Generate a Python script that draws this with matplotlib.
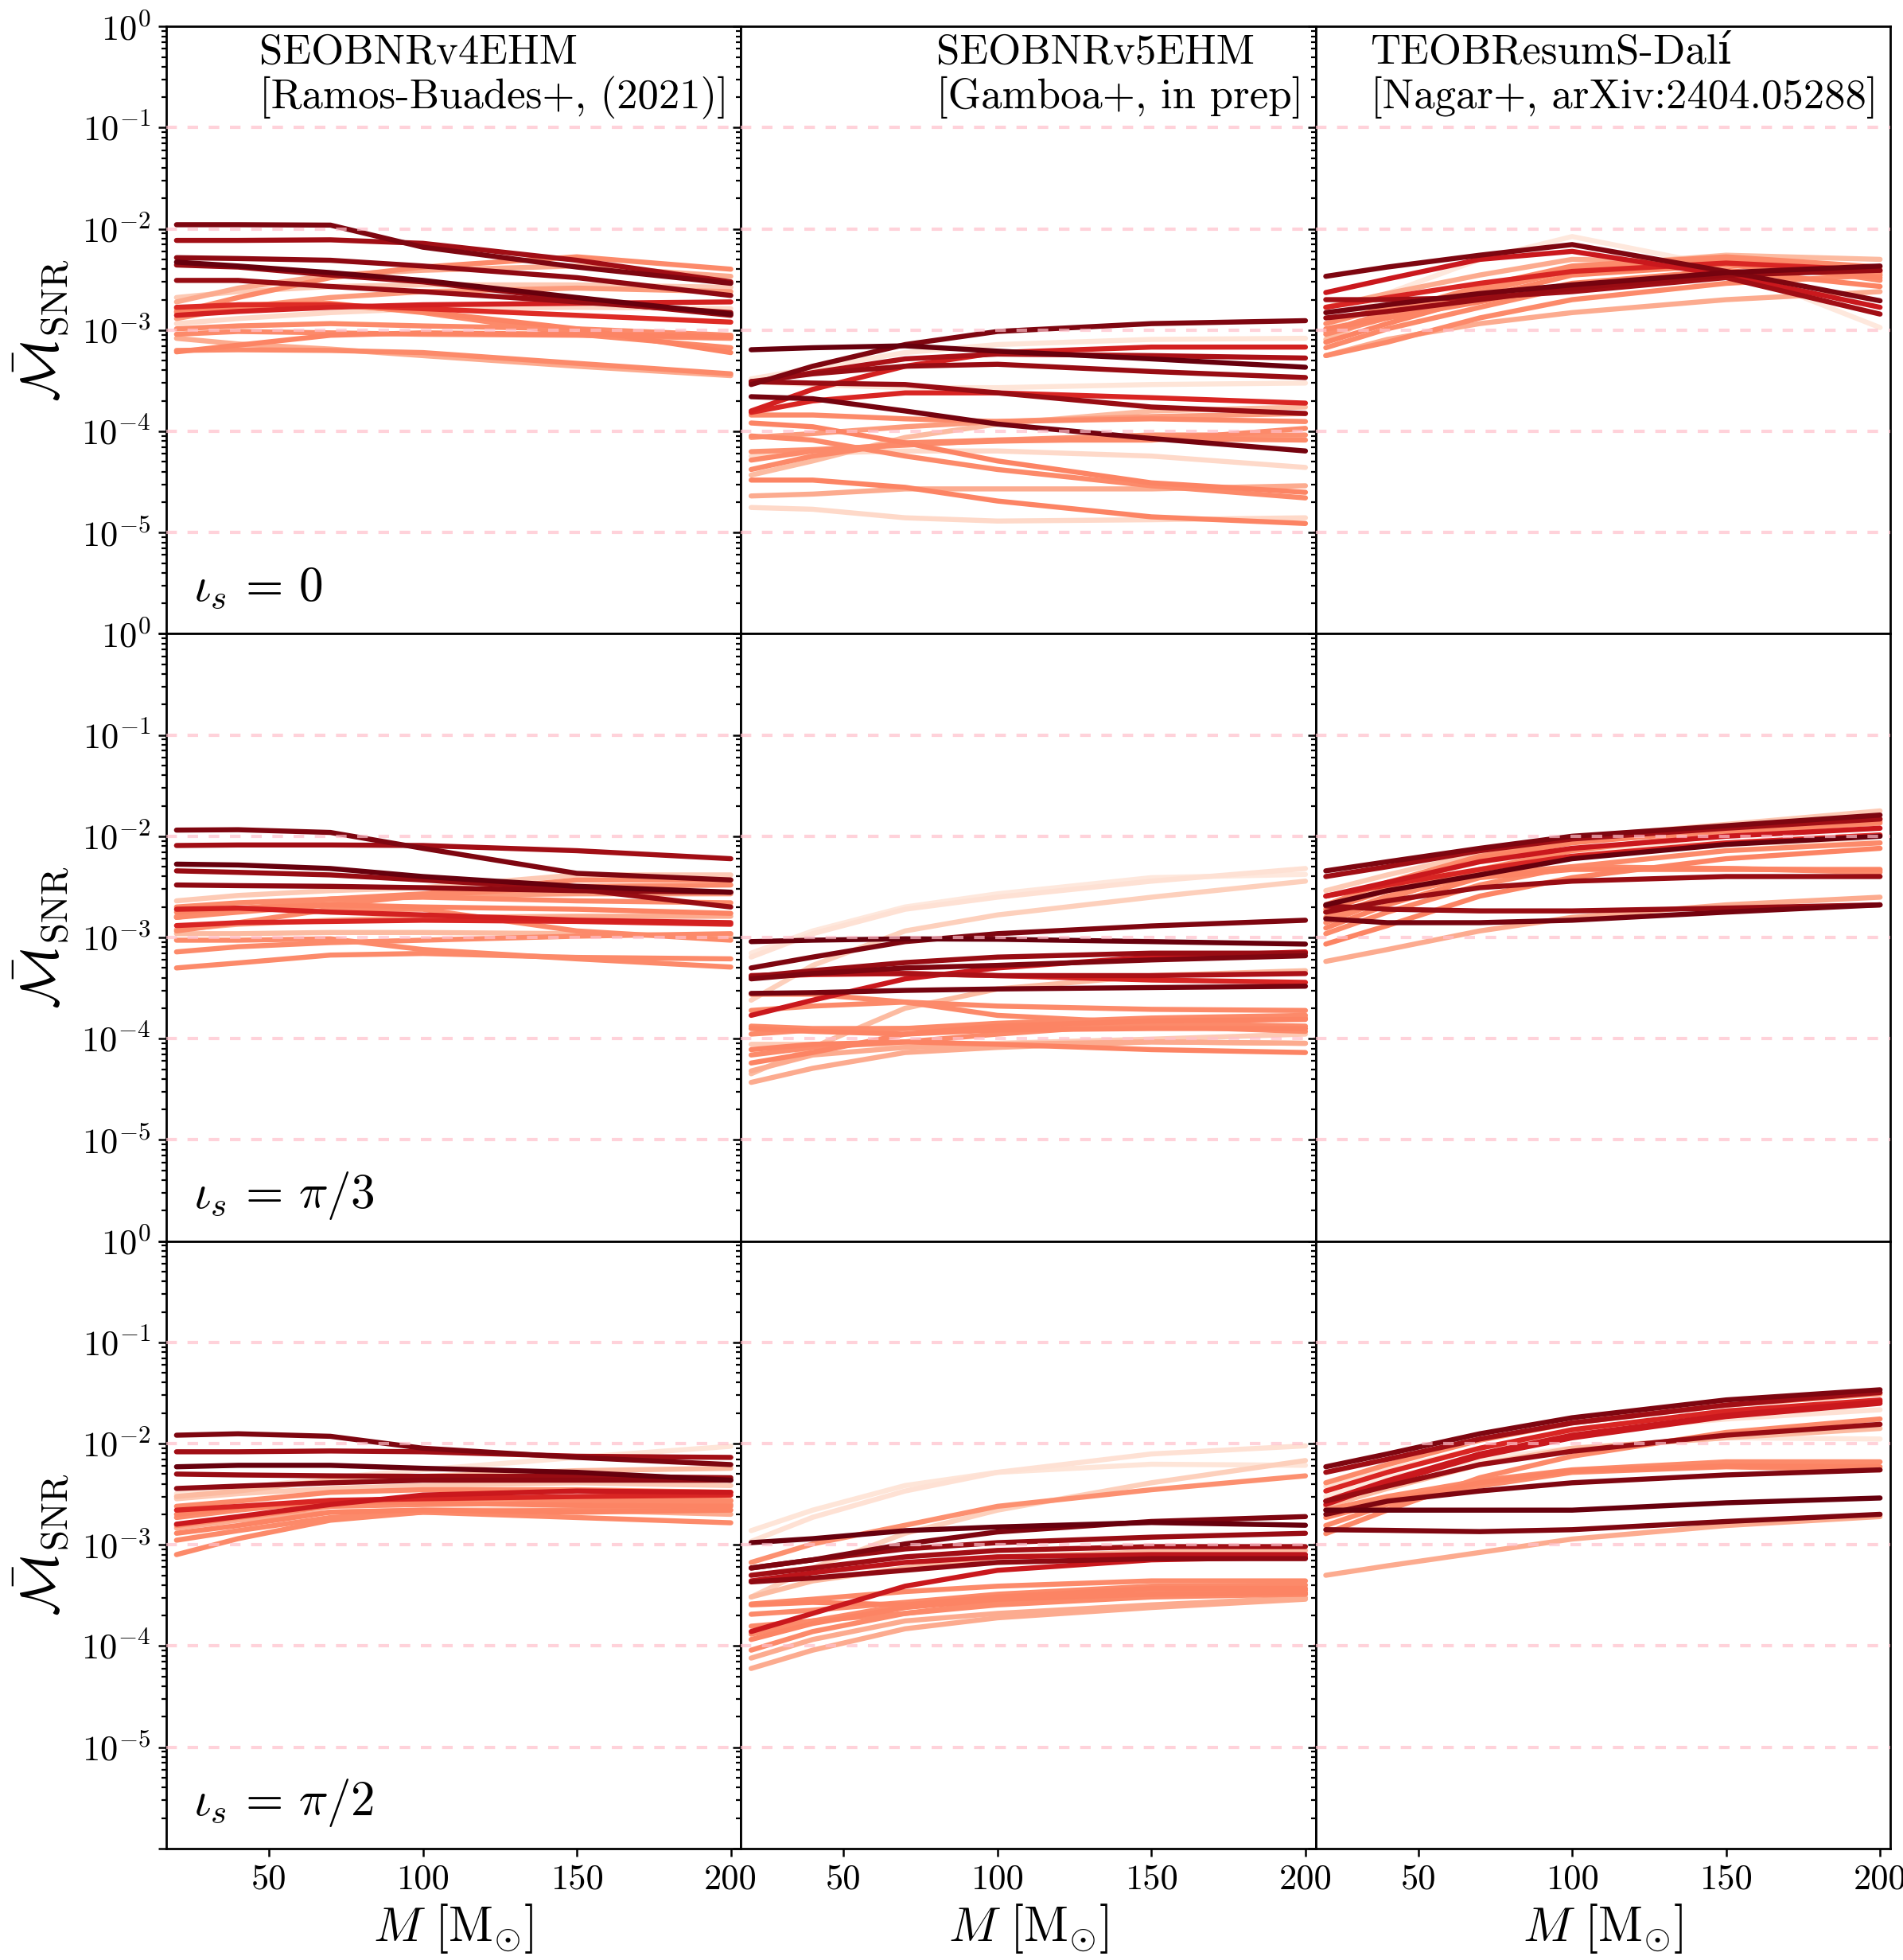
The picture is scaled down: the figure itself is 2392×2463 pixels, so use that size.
import numpy as np
import matplotlib
matplotlib.use('Agg')
import matplotlib.pyplot as plt
from matplotlib.ticker import FixedLocator, FixedFormatter, LogLocator, NullFormatter

plt.rcParams['font.family'] = ['cmr10', 'DejaVu Serif']
plt.rcParams['mathtext.fontset'] = 'cm'
plt.rcParams['axes.formatter.use_mathtext'] = True
plt.rcParams['axes.unicode_minus'] = False

# ---------------- data ----------------
mass = [20, 40, 70, 100, 150, 200]

model_titles = ["SEOBNRv4EHM\n[Ramos-Buades+, (2021)]",
                "SEOBNRv5EHM\n[Gamboa+, in prep]",
                "TEOBResumS-Dalí\n[Nagar+, arXiv:2404.05288]"]
iota_labels = [r'$\iota_s \,=\, 0$', r'$\iota_s \,=\, \pi/3$', r'$\iota_s \,=\, \pi/2$']
ytick_vals = [1e-6, 1e-5, 1e-4, 1e-3, 1e-2, 1e-1, 1e0]
ytick_labels = ['', r'$10^{-5}$', r'$10^{-4}$', r'$10^{-3}$', r'$10^{-2}$', r'$10^{-1}$', r'$10^{0}$']
xtick_vals = [50, 100, 150, 200]
ref_levels = [1e-1, 1e-2, 1e-3, 1e-4, 1e-5]

# --- SEOBNRv4EHM, iota = 0
v4_i0_shade = [0.95, 0.88, 0.92, 1.0, 0.9, 0.9, 0.72, 0.68, 0.4, 0.3, 0.2, 0.4, 0.42, 0.4, 0.4, 0.42, 0.4, 0.3, 0.15, 0.35]
v4_i0_vals = [
    [1.1e-2, 1.1e-2, 1.09e-2, 6.6e-3, 4.2e-3, 2.9e-3],
    [7.7e-3, 7.7e-3, 7.8e-3, 7.2e-3, 4.9e-3, 3.0e-3],
    [5.2e-3, 5.1e-3, 4.9e-3, 4.3e-3, 3.3e-3, 2.2e-3],
    [4.7e-3, 4.3e-3, 3.7e-3, 3.1e-3, 2.1e-3, 1.44e-3],
    [4.4e-3, 4.2e-3, 3.5e-3, 3.0e-3, 2.0e-3, 1.4e-3],
    [3.1e-3, 3.1e-3, 2.7e-3, 2.4e-3, 1.9e-3, 1.49e-3],
    [1.4e-3, 1.53e-3, 1.68e-3, 1.78e-3, 1.84e-3, 1.9e-3],
    [1.68e-3, 1.78e-3, 1.78e-3, 1.63e-3, 1.4e-3, 1.2e-3],
    [1.49e-3, 2.1e-3, 3.3e-3, 4.2e-3, 5.3e-3, 4.0e-3],
    [1.9e-3, 2.6e-3, 3.5e-3, 3.9e-3, 4.3e-3, 3.4e-3],
    [2.1e-3, 2.4e-3, 2.7e-3, 2.8e-3, 2.8e-3, 2.65e-3],
    [1.63e-3, 1.78e-3, 1.84e-3, 1.49e-3, 9.1e-4, 6.7e-4],
    [1.53e-3, 1.68e-3, 1.78e-3, 1.53e-3, 1.03e-3, 6.0e-4],
    [1.03e-3, 1.1e-3, 1.16e-3, 1.1e-3, 1.03e-3, 8.9e-4],
    [9.1e-4, 9.7e-4, 9.4e-4, 9.1e-4, 8.9e-4, 8.3e-4],
    [6.1e-4, 7.1e-4, 8.9e-4, 9.4e-4, 9.1e-4, 8.6e-4],
    [6.3e-4, 6.4e-4, 6.3e-4, 6.0e-4, 4.7e-4, 3.7e-4],
    [8.3e-4, 7.3e-4, 6.5e-4, 5.6e-4, 4.4e-4, 3.55e-4],
    [1.16e-3, 1.3e-3, 1.49e-3, 1.63e-3, 1.68e-3, 1.63e-3],
    [1.3e-3, 1.68e-3, 2.1e-3, 2.4e-3, 2.6e-3, 2.4e-3],
]

# --- SEOBNRv5EHM, iota = 0
v5_i0_shade = [1.0, 0.95, 0.9, 0.85, 0.72, 0.9, 0.97, 0.7, 0.4, 0.42, 0.4, 0.42, 0.15, 0.3, 0.4, 0.38, 0.25, 0.15, 0.1, 0.1, 0.4, 0.35]
v5_i0_vals = [
    [6.4e-4, 6.7e-4, 7.0e-4, 6.2e-4, 5.2e-4, 4.3e-4],
    [2.9e-4, 4.4e-4, 7.2e-4, 9.7e-4, 1.16e-3, 1.24e-3],
    [3.1e-4, 3.7e-4, 4.4e-4, 4.6e-4, 3.9e-4, 3.4e-4],
    [3.0e-4, 3.8e-4, 5.2e-4, 5.8e-4, 5.6e-4, 5.3e-4],
    [1.59e-4, 2.6e-4, 4.4e-4, 6.0e-4, 6.8e-4, 6.8e-4],
    [3.1e-4, 3.0e-4, 2.9e-4, 2.4e-4, 1.74e-4, 1.5e-4],
    [2.2e-4, 2.1e-4, 1.59e-4, 1.18e-4, 8.5e-5, 6.4e-5],
    [1.54e-4, 2.0e-4, 2.4e-4, 2.4e-4, 2.15e-4, 1.9e-4],
    [1.45e-4, 1.45e-4, 1.33e-4, 1.25e-4, 1.33e-4, 1.25e-4],
    [1.21e-4, 1.11e-4, 7.7e-5, 5.1e-5, 3.1e-5, 2.5e-5],
    [9.0e-5, 8.2e-5, 5.7e-5, 4.2e-5, 2.9e-5, 2.2e-5],
    [3.3e-5, 3.3e-5, 2.8e-5, 2.05e-5, 1.43e-5, 1.23e-5],
    [1.77e-5, 1.7e-5, 1.4e-5, 1.3e-5, 1.34e-5, 1.4e-5],
    [2.3e-5, 2.4e-5, 2.7e-5, 2.7e-5, 2.7e-5, 2.9e-5],
    [4.2e-5, 5.7e-5, 7.7e-5, 8.2e-5, 8.2e-5, 1.07e-4],
    [6.3e-5, 6.6e-5, 7.3e-5, 8.2e-5, 9.2e-5, 9.2e-5],
    [3.7e-5, 5.1e-5, 8.7e-5, 1.18e-4, 1.59e-4, 1.74e-4],
    [5.7e-5, 6.1e-5, 6.4e-5, 6.4e-5, 5.7e-5, 4.4e-5],
    [3.3e-4, 4.2e-4, 6.0e-4, 7.2e-4, 8.1e-4, 8.3e-4],
    [3.1e-4, 2.9e-4, 2.7e-4, 2.7e-4, 2.9e-4, 3.0e-4],
    [5.2e-5, 6.4e-5, 7.5e-5, 8.0e-5, 8.5e-5, 8.2e-5],
    [8.7e-5, 9.5e-5, 1.11e-4, 1.25e-4, 1.4e-4, 1.5e-4],
]

# --- TEOBResumS-Dali, iota = 0
teob_i0_shade = [0.95, 0.75, 0.08, 0.88, 0.97, 0.9, 0.4, 0.42, 0.4, 0.3, 0.25, 0.7, 0.4, 0.42, 0.3, 0.4, 0.4]
teob_i0_vals = [
    [3.4e-3, 4.2e-3, 5.5e-3, 7.0e-3, 3.8e-3, 1.95e-3],
    [2.35e-3, 3.2e-3, 5.0e-3, 6.0e-3, 3.5e-3, 1.68e-3],
    [9.7e-4, 2.3e-3, 5.0e-3, 8.4e-3, 4.2e-3, 1.06e-3],
    [2.0e-3, 2.0e-3, 2.1e-3, 2.4e-3, 3.3e-3, 1.44e-3],
    [1.49e-3, 1.78e-3, 2.3e-3, 2.8e-3, 3.7e-3, 4.3e-3],
    [1.32e-3, 1.53e-3, 2.0e-3, 2.6e-3, 3.5e-3, 3.9e-3],
    [9.1e-4, 1.32e-3, 2.4e-3, 3.9e-3, 5.0e-3, 3.7e-3],
    [7.6e-4, 1.16e-3, 2.1e-3, 3.5e-3, 4.4e-3, 3.3e-3],
    [5.6e-4, 7.6e-4, 1.32e-3, 2.0e-3, 2.9e-3, 3.5e-3],
    [5.6e-4, 8.1e-4, 1.16e-3, 1.49e-3, 2.0e-3, 2.4e-3],
    [8.1e-4, 1.49e-3, 2.3e-3, 4.2e-3, 5.5e-3, 5.0e-3],
    [1.68e-3, 2.1e-3, 2.9e-3, 3.8e-3, 4.6e-3, 3.9e-3],
    [1.16e-3, 1.68e-3, 2.4e-3, 4.2e-3, 5.2e-3, 3.1e-3],
    [1.03e-3, 1.32e-3, 1.9e-3, 2.9e-3, 3.9e-3, 2.7e-3],
    [1.68e-3, 2.3e-3, 3.5e-3, 5.0e-3, 4.7e-3, 3.5e-3],
    [6.7e-4, 1.03e-3, 1.68e-3, 2.7e-3, 3.7e-3, 3.8e-3],
    [9.7e-4, 1.49e-3, 2.7e-3, 4.3e-3, 5.3e-3, 4.2e-3],
]

# --- SEOBNRv4EHM, iota = pi/3
v4_i3_shade = [0.95, 0.88, 1.0, 0.9, 0.92, 0.7, 0.72, 0.2, 0.4, 0.4, 0.42, 0.4, 0.4, 0.4, 0.4, 0.3, 0.25, 0.4, 0.35]
v4_i3_vals = [
    [1.15e-2, 1.16e-2, 1.09e-2, 7.6e-3, 4.3e-3, 3.7e-3],
    [8.1e-3, 8.2e-3, 8.2e-3, 8.1e-3, 7.2e-3, 6.0e-3],
    [5.3e-3, 5.2e-3, 4.8e-3, 4.0e-3, 3.2e-3, 2.8e-3],
    [4.55e-3, 4.4e-3, 4.15e-3, 3.7e-3, 3.0e-3, 2.0e-3],
    [3.3e-3, 3.25e-3, 3.2e-3, 3.1e-3, 2.9e-3, 2.8e-3],
    [1.31e-3, 1.4e-3, 1.44e-3, 1.48e-3, 1.44e-3, 1.35e-3],
    [1.9e-3, 1.95e-3, 1.78e-3, 1.67e-3, 1.48e-3, 1.4e-3],
    [2.3e-3, 2.6e-3, 2.9e-3, 3.1e-3, 4.15e-3, 4.15e-3],
    [1.58e-3, 1.9e-3, 2.4e-3, 2.7e-3, 3.7e-3, 3.7e-3],
    [2.0e-3, 2.2e-3, 2.4e-3, 2.5e-3, 2.3e-3, 2.2e-3],
    [1.78e-3, 1.95e-3, 2.1e-3, 2.0e-3, 1.9e-3, 1.73e-3],
    [1.16e-3, 1.4e-3, 1.9e-3, 1.9e-3, 1.16e-3, 9.4e-4],
    [9.4e-4, 9.4e-4, 9.7e-4, 7.6e-4, 6.15e-4, 5.1e-4],
    [7.2e-4, 8.1e-4, 8.9e-4, 9.4e-4, 1.03e-3, 1.09e-3],
    [5.0e-4, 5.6e-4, 6.7e-4, 6.95e-4, 6.35e-4, 6.15e-4],
    [1.2e-3, 1.35e-3, 1.48e-3, 1.58e-3, 1.62e-3, 1.62e-3],
    [1.09e-3, 1.09e-3, 1.12e-3, 1.12e-3, 1.09e-3, 1.03e-3],
    [1.58e-3, 1.78e-3, 2.1e-3, 2.6e-3, 3.2e-3, 3.3e-3],
    [1.62e-3, 1.9e-3, 2.3e-3, 2.6e-3, 2.7e-3, 2.7e-3],
]

# --- SEOBNRv5EHM, iota = pi/3
v5_i3_shade = [0.12, 0.08, 0.18, 0.95, 1.0, 0.9, 0.95, 0.85, 0.7, 0.97, 0.75, 0.4, 0.4, 0.42, 0.4, 0.42, 0.4, 0.42, 0.3, 0.3, 0.25, 0.4, 0.2]
v5_i3_vals = [
    [6.4e-4, 1.09e-3, 1.9e-3, 2.5e-3, 3.6e-3, 4.8e-3],
    [7.0e-4, 1.16e-3, 2.0e-3, 2.7e-3, 3.9e-3, 4.2e-3],
    [2.4e-4, 5.3e-4, 1.16e-3, 1.67e-3, 2.5e-3, 3.6e-3],
    [5.0e-4, 6.4e-4, 9.1e-4, 1.09e-3, 1.3e-3, 1.48e-3],
    [9.1e-4, 9.4e-4, 9.7e-4, 9.6e-4, 9.1e-4, 8.6e-4],
    [4.1e-4, 4.7e-4, 5.65e-4, 6.4e-4, 7.0e-4, 7.0e-4],
    [3.9e-4, 4.4e-4, 5.0e-4, 5.3e-4, 6.0e-4, 6.6e-4],
    [4.2e-4, 4.4e-4, 4.4e-4, 4.2e-4, 4.2e-4, 4.4e-4],
    [4.1e-4, 4.3e-4, 4.4e-4, 4.2e-4, 3.8e-4, 3.6e-4],
    [2.8e-4, 2.85e-4, 3.0e-4, 3.1e-4, 3.2e-4, 3.3e-4],
    [1.7e-4, 2.4e-4, 3.9e-4, 5.0e-4, 6.4e-4, 7.2e-4],
    [1.9e-4, 2.1e-4, 2.3e-4, 2.1e-4, 1.95e-4, 1.9e-4],
    [1.33e-4, 1.26e-4, 1.26e-4, 1.42e-4, 1.6e-4, 1.7e-4],
    [1.26e-4, 1.18e-4, 1.11e-4, 1.22e-4, 1.26e-4, 1.26e-4],
    [1.11e-4, 1.22e-4, 1.26e-4, 1.33e-4, 1.33e-4, 1.18e-4],
    [7.8e-5, 8.8e-5, 9.3e-5, 8.8e-5, 7.8e-5, 7.3e-5],
    [6.9e-5, 8.2e-5, 9.3e-5, 1.11e-4, 1.42e-4, 1.6e-4],
    [5.75e-5, 7.3e-5, 1.11e-4, 1.33e-4, 1.5e-4, 1.55e-4],
    [4.8e-5, 6.9e-5, 8.2e-5, 8.8e-5, 9.3e-5, 9.0e-5],
    [3.7e-5, 5.1e-5, 7.3e-5, 8.2e-5, 9.3e-5, 9.0e-5],
    [4.5e-5, 8.2e-5, 2.0e-4, 3.1e-4, 4.2e-4, 4.7e-4],
    [2.75e-4, 2.75e-4, 2.3e-4, 1.7e-4, 1.42e-4, 1.33e-4],
    [8.8e-5, 8.8e-5, 8.8e-5, 9.0e-5, 9.9e-5, 1.11e-4],
]

# --- TEOBResumS-Dali, iota = pi/3
teob_i3_shade = [0.95, 0.88, 0.75, 1.0, 0.9, 0.97, 0.9, 0.4, 0.4, 0.42, 0.4, 0.42, 0.2, 0.12, 0.4, 0.42, 0.3, 0.7, 0.4]
teob_i3_vals = [
    [4.55e-3, 5.6e-3, 7.6e-3, 1.0e-2, 1.27e-2, 1.62e-2],
    [4.0e-3, 5.0e-3, 7.2e-3, 9.4e-3, 1.2e-2, 1.48e-2],
    [2.56e-3, 3.5e-3, 5.6e-3, 7.6e-3, 1.0e-2, 1.2e-2],
    [2.1e-3, 2.9e-3, 4.15e-3, 6.0e-3, 8.3e-3, 1.0e-2],
    [2.05e-3, 1.9e-3, 1.83e-3, 1.83e-3, 1.95e-3, 2.1e-3],
    [1.53e-3, 1.4e-3, 1.4e-3, 1.48e-3, 1.78e-3, 2.1e-3],
    [1.78e-3, 2.3e-3, 3.1e-3, 3.6e-3, 4.0e-3, 4.0e-3],
    [1.9e-3, 2.9e-3, 4.4e-3, 4.8e-3, 4.8e-3, 4.55e-3],
    [1.58e-3, 2.56e-3, 4.15e-3, 5.0e-3, 4.8e-3, 4.4e-3],
    [1.24e-3, 2.1e-3, 3.9e-3, 4.7e-3, 4.7e-3, 4.7e-3],
    [2.1e-3, 3.5e-3, 6.35e-3, 9.1e-3, 1.24e-2, 1.48e-2],
    [1.78e-3, 3.1e-3, 6.0e-3, 8.6e-3, 1.16e-2, 1.4e-2],
    [2.9e-3, 4.15e-3, 6.75e-3, 9.7e-3, 1.31e-2, 1.78e-2],
    [2.0e-3, 3.3e-3, 5.6e-3, 7.2e-3, 8.6e-3, 8.6e-3],
    [1.09e-3, 1.78e-3, 3.3e-3, 5.0e-3, 7.2e-3, 8.6e-3],
    [8.6e-4, 1.31e-3, 2.56e-3, 3.9e-3, 6.0e-3, 7.6e-3],
    [5.8e-4, 7.6e-4, 1.16e-3, 1.58e-3, 2.1e-3, 2.5e-3],
    [2.56e-3, 3.3e-3, 4.7e-3, 6.35e-3, 8.6e-3, 1.03e-2],
    [1.4e-3, 2.4e-3, 4.7e-3, 7.2e-3, 1.09e-2, 1.35e-2],
]

# --- SEOBNRv4EHM, iota = pi/2
v4_i2_shade = [0.95, 0.88, 1.0, 0.9, 0.92, 0.75, 0.7, 0.4, 0.4, 0.42, 0.4, 0.4, 0.1, 0.4, 0.3, 0.42, 0.2, 0.25]
v4_i2_vals = [
    [1.21e-2, 1.25e-2, 1.18e-2, 9.0e-3, 7.3e-3, 6.2e-3],
    [8.3e-3, 8.3e-3, 8.45e-3, 8.3e-3, 7.5e-3, 7.3e-3],
    [5.9e-3, 6.1e-3, 6.1e-3, 5.7e-3, 5.2e-3, 4.35e-3],
    [5.0e-3, 4.9e-3, 4.8e-3, 4.75e-3, 4.75e-3, 4.6e-3],
    [3.6e-3, 3.8e-3, 4.1e-3, 4.35e-3, 4.35e-3, 4.35e-3],
    [1.6e-3, 1.9e-3, 2.5e-3, 3.1e-3, 3.4e-3, 3.3e-3],
    [2.2e-3, 2.4e-3, 2.75e-3, 2.85e-3, 3.0e-3, 3.1e-3],
    [2.4e-3, 2.7e-3, 3.3e-3, 3.5e-3, 3.5e-3, 3.3e-3],
    [1.86e-3, 2.2e-3, 2.7e-3, 2.85e-3, 2.85e-3, 2.75e-3],
    [1.3e-3, 1.55e-3, 2.1e-3, 2.2e-3, 2.1e-3, 2.2e-3],
    [1.11e-3, 1.38e-3, 1.86e-3, 2.1e-3, 1.86e-3, 1.65e-3],
    [8.0e-4, 1.15e-3, 1.75e-3, 2.1e-3, 2.2e-3, 2.5e-3],
    [3.2e-3, 3.6e-3, 4.6e-3, 5.5e-3, 7.3e-3, 9.4e-3],
    [1.55e-3, 1.86e-3, 2.4e-3, 2.5e-3, 2.6e-3, 2.7e-3],
    [1.46e-3, 1.75e-3, 2.1e-3, 2.2e-3, 2.2e-3, 2.0e-3],
    [2.0e-3, 2.3e-3, 2.7e-3, 2.6e-3, 2.45e-3, 2.4e-3],
    [2.85e-3, 3.2e-3, 3.6e-3, 3.85e-3, 4.1e-3, 3.85e-3],
    [3.0e-3, 3.4e-3, 4.35e-3, 4.75e-3, 5.4e-3, 5.7e-3],
]

# --- SEOBNRv5EHM, iota = pi/2
v5_i2_shade = [0.1, 0.12, 0.18, 0.38, 1.0, 0.95, 0.9, 0.88, 0.8, 0.92, 0.75, 0.25, 0.4, 0.4, 0.42, 0.4, 0.42, 0.4, 0.3, 0.3, 0.4]
v5_i2_vals = [
    [1.38e-3, 2.2e-3, 3.85e-3, 5.2e-3, 6.25e-3, 6.1e-3],
    [1.08e-3, 1.87e-3, 3.4e-3, 5.2e-3, 7.9e-3, 9.5e-3],
    [3.05e-4, 5.9e-4, 1.3e-3, 2.2e-3, 4.1e-3, 6.8e-3],
    [6.7e-4, 1.02e-3, 1.56e-3, 2.4e-3, 3.5e-3, 4.8e-3],
    [1.05e-3, 1.15e-3, 1.38e-3, 1.5e-3, 1.66e-3, 1.56e-3],
    [5.9e-4, 7.1e-4, 1.02e-3, 1.34e-3, 1.7e-3, 1.9e-3],
    [5.9e-4, 7.1e-4, 9.1e-4, 1.05e-3, 1.19e-3, 1.3e-3],
    [5.0e-4, 5.9e-4, 7.6e-4, 8.8e-4, 9.6e-4, 9.6e-4],
    [4.4e-4, 5.3e-4, 6.7e-4, 7.6e-4, 8.0e-4, 8.0e-4],
    [4.3e-4, 4.7e-4, 5.6e-4, 6.7e-4, 7.3e-4, 7.3e-4],
    [1.39e-4, 2.1e-4, 3.9e-4, 5.6e-4, 7.1e-4, 7.6e-4],
    [3.05e-4, 4.4e-4, 5.9e-4, 7.6e-4, 8.5e-4, 8.8e-4],
    [2.6e-4, 2.9e-4, 3.45e-4, 3.9e-4, 4.4e-4, 4.4e-4],
    [2.06e-4, 2.26e-4, 2.7e-4, 3.25e-4, 3.9e-4, 4.0e-4],
    [2.55e-4, 2.7e-4, 2.55e-4, 3.05e-4, 3.7e-4, 3.7e-4],
    [1.31e-4, 1.77e-4, 2.55e-4, 3.05e-4, 3.45e-4, 3.55e-4],
    [1.16e-4, 1.67e-4, 2.4e-4, 2.9e-4, 3.25e-4, 3.35e-4],
    [9.1e-5, 1.39e-4, 2.1e-4, 2.55e-4, 3.05e-4, 3.25e-4],
    [7.6e-5, 1.16e-4, 1.77e-4, 2.1e-4, 2.55e-4, 3.0e-4],
    [6.0e-5, 9.1e-5, 1.48e-4, 1.9e-4, 2.4e-4, 2.9e-4],
    [1.57e-4, 1.77e-4, 2.1e-4, 2.7e-4, 3.25e-4, 3.25e-4],
]

# --- TEOBResumS-Dali, iota = pi/2
teob_i2_shade = [0.95, 0.88, 0.4, 0.7, 0.75, 0.12, 0.9, 0.25, 0.4, 0.42, 0.4, 0.95, 1.0, 0.95, 0.3, 0.08, 0.4, 0.75]
teob_i2_vals = [
    [5.9e-3, 7.9e-3, 1.25e-2, 1.8e-2, 2.7e-2, 3.4e-2],
    [5.2e-3, 7.0e-3, 1.11e-2, 1.6e-2, 2.4e-2, 3.2e-2],
    [4.1e-3, 6.2e-3, 1.08e-2, 1.6e-2, 2.4e-2, 3.1e-2],
    [3.4e-3, 5.2e-3, 9.0e-3, 1.37e-2, 2.1e-2, 2.7e-2],
    [2.7e-3, 4.3e-3, 7.9e-3, 1.21e-2, 1.9e-2, 2.6e-2],
    [3.8e-3, 5.5e-3, 9.0e-3, 1.29e-2, 1.75e-2, 2.16e-2],
    [2.7e-3, 3.8e-3, 6.2e-3, 8.4e-3, 1.21e-2, 1.55e-2],
    [2.4e-3, 3.6e-3, 6.2e-3, 9.0e-3, 1.14e-2, 1.41e-2],
    [2.2e-3, 3.0e-3, 4.3e-3, 5.5e-3, 6.6e-3, 6.6e-3],
    [1.86e-3, 2.7e-3, 4.1e-3, 5.4e-3, 6.0e-3, 5.9e-3],
    [1.55e-3, 2.5e-3, 3.8e-3, 5.2e-3, 5.9e-3, 5.5e-3],
    [2.0e-3, 2.7e-3, 3.4e-3, 4.1e-3, 4.9e-3, 5.5e-3],
    [2.2e-3, 2.2e-3, 2.2e-3, 2.2e-3, 2.6e-3, 2.9e-3],
    [1.41e-3, 1.39e-3, 1.35e-3, 1.41e-3, 1.7e-3, 2.0e-3],
    [5.0e-4, 6.2e-4, 8.4e-4, 1.14e-3, 1.55e-3, 1.9e-3],
    [3.0e-3, 4.6e-3, 7.0e-3, 9.0e-3, 1.14e-2, 1.11e-2],
    [1.29e-3, 2.2e-3, 4.6e-3, 7.5e-3, 1.29e-2, 1.75e-2],
    [2.5e-3, 4.1e-3, 7.5e-3, 1.14e-2, 1.85e-2, 2.5e-2],
]

panels = [
    [(v4_i0_shade, v4_i0_vals), (v5_i0_shade, v5_i0_vals), (teob_i0_shade, teob_i0_vals)],
    [(v4_i3_shade, v4_i3_vals), (v5_i3_shade, v5_i3_vals), (teob_i3_shade, teob_i3_vals)],
    [(v4_i2_shade, v4_i2_vals), (v5_i2_shade, v5_i2_vals), (teob_i2_shade, teob_i2_vals)],
]

# ---------------- figure ----------------
cmap = plt.get_cmap('Reds')
fig = plt.figure(figsize=(11.96, 12.315), dpi=200)
left, right, top, bottom = 0.0874, 0.9933, 0.9865, 0.0569
w = (right - left) / 3.0
h = (top - bottom) / 3.0

tick_fs = 16
for r in range(3):
    for c in range(3):
        ax = fig.add_axes([left + c * w, top - (r + 1) * h, w, h])
        shades, vals = panels[r][c]
        order = np.argsort(shades, kind='stable')
        for k in order:
            ax.plot(mass, vals[k], color=cmap(shades[k]), lw=2.3,
                    solid_capstyle='round', solid_joinstyle='round', zorder=2)
        for lev in ref_levels:
            ax.axhline(lev, color='pink', ls=(0, (3.2, 3.2)), lw=1.5, alpha=0.7, zorder=5)
        ax.set_yscale('log')
        ax.set_ylim(1e-6, 1e0)
        ax.set_xlim(16.7, 203.3)
        ax.yaxis.set_major_locator(FixedLocator(ytick_vals))
        ax.yaxis.set_minor_locator(LogLocator(base=10, subs=np.arange(2, 10)))
        ax.yaxis.set_minor_formatter(NullFormatter())
        ax.xaxis.set_major_locator(FixedLocator(xtick_vals))
        if c == 0:
            ax.yaxis.set_major_formatter(FixedFormatter(ytick_labels))
            ax.set_ylabel(r'$\bar{\mathcal{M}}_{\rm SNR}$', fontsize=24)
            ax.yaxis.set_label_coords(-0.165, 0.5)
            ax.text(0.047, 0.055, iota_labels[r], transform=ax.transAxes,
                    fontsize=22, ha='left', va='baseline')
        else:
            ax.yaxis.set_major_formatter(NullFormatter())
        if r == 2:
            ax.set_xticklabels([str(v) for v in xtick_vals])
            ax.set_xlabel(r'$M\ [\mathrm{M}_{\odot}]$', fontsize=22)
            ax.xaxis.set_label_coords(0.5, -0.088)
        else:
            ax.set_xticklabels([])
        if r == 0:
            ax.text(0.978, 0.988, model_titles[c], transform=ax.transAxes,
                    fontsize=19, ha='right', va='top', multialignment='left',
                    linespacing=1.15)
        ax.tick_params(axis='both', which='major', labelsize=tick_fs, length=3.5, width=0.9)
        ax.tick_params(axis='y', which='minor', length=2.2, width=0.8)
        for sp in ax.spines.values():
            sp.set_linewidth(1.0)

fig.savefig('out.png', dpi=200)
